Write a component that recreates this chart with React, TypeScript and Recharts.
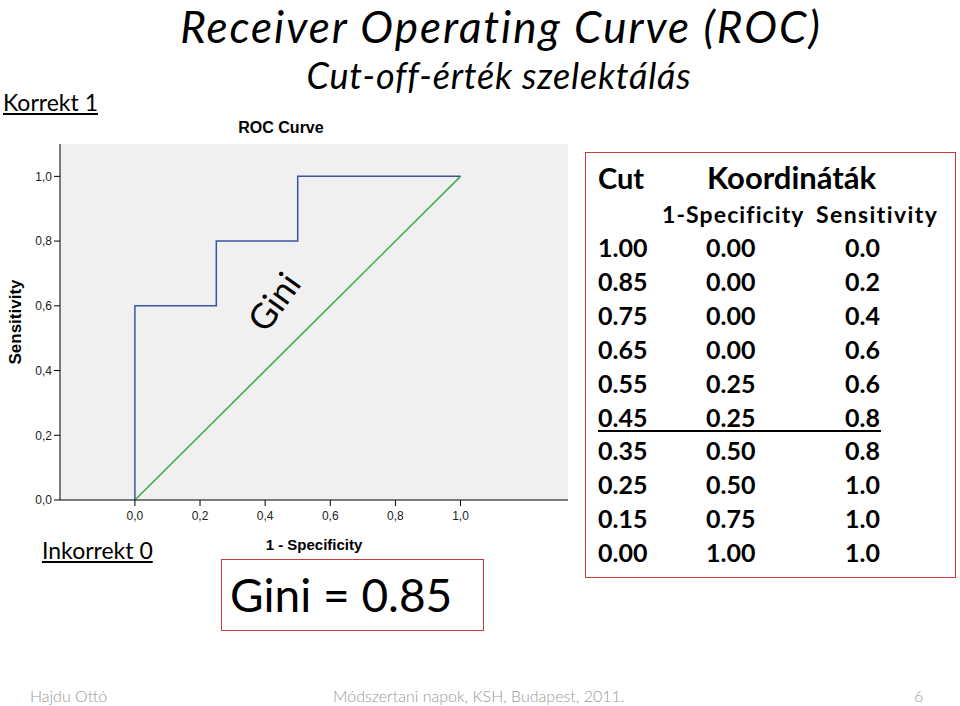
import React from "react";
import {
  LineChart, Line, XAxis, YAxis, CartesianGrid, Label,
} from "recharts";

const cuts = ["1.00", "0.85", "0.75", "0.65", "0.55", "0.45", "0.35", "0.25", "0.15", "0.00"];
const specComp = [0, 0, 0, 0, 0.25, 0.25, 0.5, 0.5, 0.75, 1.0];
const sensitivity = [0, 0.2, 0.4, 0.6, 0.6, 0.8, 0.8, 1.0, 1.0, 1.0];
const diagonalX = [0, 1];
const diagonalY = [0, 1];
const xTicks = [0, 0.2, 0.4, 0.6, 0.8, 1.0];
const yTicks = [0, 0.2, 0.4, 0.6, 0.8, 1.0];
const giniValue = "0.85";

const rocData = specComp.map((x, i) => ({ x, y: sensitivity[i] }));
const diagData = diagonalX.map((x, i) => ({ x, y: diagonalY[i] }));

const comma = (v: number) => v.toFixed(1).replace(".", ",");

const CAL = "Lato, 'Open Sans', sans-serif";
const ARIAL = "'Liberation Sans', Arial, sans-serif";
const RED = "#d0393b";

const abs = (left: number, top: number, extra: React.CSSProperties = {}): React.CSSProperties => ({
  position: "absolute",
  left,
  top,
  whiteSpace: "nowrap",
  ...extra,
});

function RocChart() {
  return (
    <LineChart
      width={600}
      height={440}
      margin={{ top: 24, right: 32, bottom: 20, left: 10 }}
    >
      <CartesianGrid fill="#f0f0f0" horizontal={false} vertical={false} />
      <XAxis
        xAxisId="bottom"
        type="number"
        dataKey="x"
        domain={[-0.23, 1.33]}
        ticks={xTicks}
        tickFormatter={comma}
        allowDataOverflow
        height={40}
        stroke="#000"
        tickLine={{ stroke: "#000" }}
        tick={{ fill: "#222", fontSize: 12, fontFamily: ARIAL }}
        tickSize={6}
        tickMargin={5}
        interval={0}
      >
        <Label
          value="1 - Specificity"
          position="insideBottom"
          offset={-10}
          style={{ fontFamily: ARIAL, fontWeight: 700, fontSize: 15, fill: "#000" }}
        />
      </XAxis>
      <XAxis
        xAxisId="top"
        orientation="top"
        type="number"
        domain={[-0.23, 1.33]}
        allowDataOverflow
        height={0}
        tick={false}
        tickLine={false}
        stroke="#333"
      />
      <YAxis
        yAxisId="left"
        type="number"
        domain={[0, 1.1]}
        ticks={yTicks}
        tickFormatter={comma}
        allowDataOverflow
        width={50}
        stroke="#000"
        tickLine={{ stroke: "#000" }}
        tick={{ fill: "#222", fontSize: 12, fontFamily: ARIAL }}
        tickSize={6}
        interval={0}
      >
        <Label
          value="Sensitivity"
          angle={-90}
          position="insideLeft"
          offset={5}
          style={{ fontFamily: ARIAL, fontWeight: 700, fontSize: 17, fill: "#000", textAnchor: "middle" }}
        />
      </YAxis>
      <YAxis
        yAxisId="right"
        orientation="right"
        type="number"
        domain={[0, 1.1]}
        width={0}
        tick={false}
        tickLine={false}
        stroke="#333"
      />
      <Line
        xAxisId="bottom"
        yAxisId="left"
        data={diagData}
        dataKey="y"
        stroke="#3fae49"
        strokeWidth={1.5}
        dot={false}
        activeDot={false}
        isAnimationActive={false}
      />
      <Line
        xAxisId="bottom"
        yAxisId="left"
        data={rocData}
        dataKey="y"
        stroke="#3d54a3"
        strokeWidth={1.5}
        dot={false}
        activeDot={false}
        isAnimationActive={false}
      />
    </LineChart>
  );
}

export default function App() {
  const rowTop = 232;
  const rowStep = 33.9;
  return (
    <div style={abs(0, 0, { width: 960, height: 706, background: "#fff", overflow: "hidden", fontFamily: CAL })}>
      <div style={abs(42, 0, { width: 918, textAlign: "center", fontStyle: "italic", fontSize: 44, lineHeight: "53px", letterSpacing: 2, color: "#000" })}>
        Receiver Operating Curve (ROC)
      </div>
      <div style={abs(38, 53, { width: 922, textAlign: "center", fontStyle: "italic", fontSize: 36, lineHeight: "44px", letterSpacing: 0.8, color: "#000" })}>
        Cut-off-érték szelektálás
      </div>
      <div style={abs(3, 88, { fontSize: 23, textDecoration: "underline" })}>Korrekt 1</div>
      <div style={abs(0, 119, { width: 562, textAlign: "center", fontFamily: ARIAL, fontWeight: 700, fontSize: 16 })}>
        ROC Curve
      </div>

      <div style={abs(0, 120)}>
        <RocChart />
      </div>
      <div style={abs(242, 280, { fontSize: 35, transform: "rotate(-54deg)", transformOrigin: "center", color: "#000" })}>
        Gini
      </div>

      <div style={abs(42, 536, { fontSize: 23, textDecoration: "underline" })}>Inkorrekt 0</div>
      <div style={abs(221, 559, { width: 261, height: 70, border: `1.5px solid ${RED}` })} />
      <div style={abs(230, 565, { fontSize: 46, lineHeight: "60px" })}>Gini = {giniValue}</div>

      <div style={abs(585, 152, { width: 369, height: 424, border: `1.5px solid ${RED}` })} />
      <div style={abs(598, 160, { fontSize: 29, fontWeight: 700 })}>Cut</div>
      <div style={abs(707, 158, { fontSize: 31, fontWeight: 700 })}>Koordináták</div>
      <div style={abs(662, 200, { fontSize: 23, fontWeight: 700, letterSpacing: 1.1 })}>1-Specificity</div>
      <div style={abs(816, 200, { fontSize: 23, fontWeight: 700, letterSpacing: 1.4 })}>Sensitivity</div>
      {cuts.map((c, i) => (
        <React.Fragment key={c}>
          <div style={abs(598, rowTop + i * rowStep, { fontSize: 25, fontWeight: 700 })}>{c}</div>
          <div style={abs(706, rowTop + i * rowStep, { fontSize: 25, fontWeight: 700 })}>{specComp[i].toFixed(2)}</div>
          <div style={abs(845, rowTop + i * rowStep, { fontSize: 25, fontWeight: 700 })}>{sensitivity[i].toFixed(1)}</div>
        </React.Fragment>
      ))}
      <div style={abs(598, 430, { width: 283, height: 0, borderTop: "2px solid #000" })} />

      <div style={abs(30, 686, { fontSize: 16, color: "#999", fontWeight: 300 })}>Hajdu Ottó</div>
      <div style={abs(333, 686, { fontSize: 16, color: "#999", fontWeight: 300 })}>
        Módszertani napok, KSH, Budapest, 2011.
      </div>
      <div style={abs(914, 686, { fontSize: 16, color: "#999", fontWeight: 300 })}>6</div>
    </div>
  );
}
